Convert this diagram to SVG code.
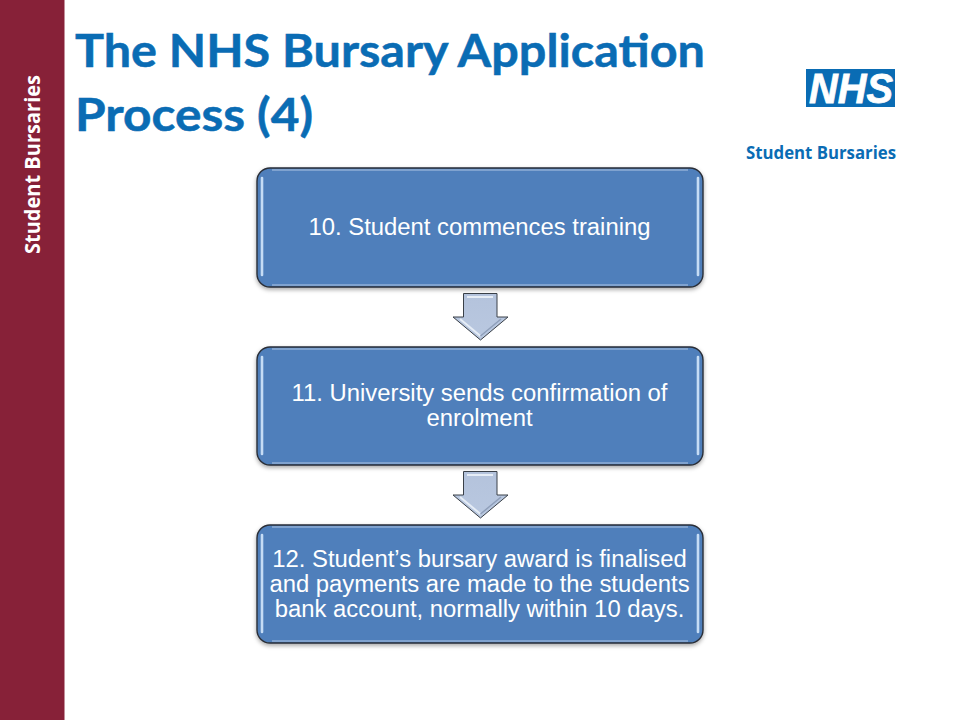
<svg xmlns="http://www.w3.org/2000/svg" width="960" height="720" viewBox="0 0 960 720">
<defs>
<linearGradient id="arrowFill" x1="0" y1="0" x2="0" y2="1"><stop offset="0" stop-color="#b4c3dc"/><stop offset="1" stop-color="#b9c8e0"/></linearGradient>
<filter id="sh" x="-5%" y="-5%" width="110%" height="115%"><feDropShadow dx="0" dy="2" stdDeviation="2" flood-color="#000" flood-opacity="0.35"/></filter>
<filter id="soft" filterUnits="userSpaceOnUse" x="0" y="0" width="960" height="720"><feGaussianBlur stdDeviation="0.7"/></filter>
</defs>
<style>
.box{fill:#4f7fbb;stroke:#2a2f38;stroke-width:1.4}
.hl{fill:none;stroke:#c5dcf5;stroke-width:2.6;stroke-linecap:round}
.hl2{fill:none;stroke:#7fa2cf;stroke-width:2}
.t{font-family:"Liberation Sans",Arial,sans-serif;font-size:23.85px;fill:#fff;text-anchor:middle}
.arrow{fill:url(#arrowFill);stroke:#3a4048;stroke-width:1}
.ah{fill:none;stroke:#e6edf6;stroke-width:2}
.ad{fill:none;stroke:#8f9fba;stroke-width:1.5}
</style>
<rect width="960" height="720" fill="#fff"/>
<rect id="sidebar" x="0" y="0" width="64.500" height="720" fill="#872138"/>
<text id="sidebar-label" transform="translate(40 254) rotate(-90)" font-family="'Open Sans',sans-serif" font-weight="700" font-size="21px" fill="#fff" textLength="179" lengthAdjust="spacingAndGlyphs">Student Bursaries</text>
<g id="title" font-family="Lato,'Open Sans',sans-serif" font-weight="700" font-size="45.500px" fill="#0a6cb4" stroke="#0a6cb4" stroke-width="0.5">
<text x="75" y="67" textLength="630" lengthAdjust="spacingAndGlyphs">The NHS Bursary Application</text>
<text x="75" y="131" textLength="238" lengthAdjust="spacingAndGlyphs">Process (4)</text>
</g>
<g id="logo">
<rect x="806" y="69" width="89" height="38" fill="#0a6cb4"/>
<text x="809" y="103" font-family="'Liberation Sans',sans-serif" font-weight="700" font-style="italic" font-size="42px" fill="#fff" stroke="#fff" stroke-width="0.8" textLength="84" lengthAdjust="spacingAndGlyphs">NHS</text>
<text x="746" y="159" font-family="'Open Sans',sans-serif" font-weight="700" font-size="17.500px" fill="#0a6cb4" textLength="150" lengthAdjust="spacingAndGlyphs">Student Bursaries</text>
</g>
<g id="connectors">
<g id="arrow-1">
<path class="arrow" d="M463.500 293.500H497V317H508L480.500 340L453 317H463.500Z"/>
<path class="ah" d="M467 297H493" filter="url(#soft)"/>
<path class="ah" d="M460 319L480.500 336" filter="url(#soft)"/>
<path class="ad" d="M501 319L480.500 336" filter="url(#soft)"/>
</g>
<g id="arrow-2">
<path class="arrow" d="M463.500 471.500H497V495H508L480.500 518L453 495H463.500Z"/>
<path class="ah" d="M467 475H493" filter="url(#soft)"/>
<path class="ah" d="M460 497L480.500 514" filter="url(#soft)"/>
<path class="ad" d="M501 497L480.500 514" filter="url(#soft)"/>
</g>
</g>
<g id="node-10">
<rect class="box" x="257" y="168" width="446" height="119" rx="13" filter="url(#sh)"/>
<path class="hl2" d="M272 170H688" filter="url(#soft)"/><path class="hl2" d="M272 285H688" filter="url(#soft)"/>
<path class="hl" d="M262 178V275" filter="url(#soft)"/><path class="hl" d="M698 178V275" filter="url(#soft)"/>
<text class="t" x="479.500" y="235">10. Student commences training</text>
</g>
<g id="node-11">
<rect class="box" x="257" y="347" width="446" height="118" rx="13" filter="url(#sh)"/>
<path class="hl2" d="M272 349H688" filter="url(#soft)"/><path class="hl2" d="M272 463H688" filter="url(#soft)"/>
<path class="hl" d="M262 357V454" filter="url(#soft)"/><path class="hl" d="M698 357V454" filter="url(#soft)"/>
<text class="t" x="479.500" y="401">11. University sends confirmation of</text>
<text class="t" x="479.500" y="426">enrolment</text>
</g>
<g id="node-12">
<rect class="box" x="257" y="525" width="446" height="118" rx="13" filter="url(#sh)"/>
<path class="hl2" d="M272 527H688" filter="url(#soft)"/><path class="hl2" d="M272 641H688" filter="url(#soft)"/>
<path class="hl" d="M262 535V632" filter="url(#soft)"/><path class="hl" d="M698 535V632" filter="url(#soft)"/>
<text class="t" x="479.500" y="567">12. Student’s bursary award is finalised</text>
<text class="t" x="479.500" y="592">and payments are made to the students</text>
<text class="t" x="479.500" y="617">bank account, normally within 10 days.</text>
</g>
</svg>
